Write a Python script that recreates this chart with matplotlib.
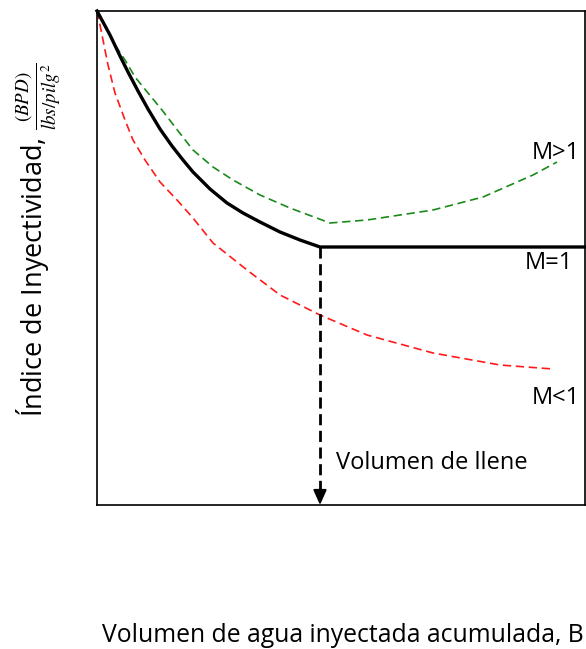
import matplotlib
matplotlib.use("Agg")
import matplotlib.pyplot as plt

# Conceptual curves (arbitrary units: x 0..488, y 0..494)
m1_x = [0, 13, 23, 31, 41, 51, 63, 75, 86, 96, 113, 130, 146, 163, 183, 203, 223, 488]
m1_y = [494, 470, 449, 433, 414, 396, 376, 359, 345, 333, 316, 302, 292, 283, 273, 265, 258, 258]

mg_x = [0, 18, 28, 38, 51, 65, 78, 96, 116, 136, 163, 193, 233, 270, 336, 386, 436, 460]
mg_y = [494, 460, 445, 428, 412, 395, 378, 355, 338, 325, 310, 297, 282, 285, 295, 308, 330, 343]

ml_x = [0, 3, 7, 11, 18, 28, 36, 48, 63, 80, 96, 116, 150, 183, 223, 270, 336, 403, 456]
ml_y = [494, 480, 460, 440, 412, 385, 365, 345, 323, 305, 287, 262, 235, 210, 190, 170, 152, 140, 136]

fill_x = 223
fill_y = 258

XMAX, YMAX = 488, 494

plt.rcParams['mathtext.fontset'] = 'stix'
FONT = 'Open Sans'
FS = 17

fig = plt.figure(figsize=(5.86, 6.49), dpi=100)
ax = fig.add_axes([97/586, 144/649, 488/586, 494/649])
ax.set_xlim(0, XMAX)
ax.set_ylim(0, YMAX)
ax.set_xticks([])
ax.set_yticks([])
for s in ax.spines.values():
    s.set_linewidth(1.2)
    s.set_color('black')

ax.plot(mg_x, mg_y, color='#1a8a1a', lw=1.2, dashes=(5, 2.8), clip_on=False)
ax.plot(ml_x, ml_y, color='#ff1a1a', lw=1.2, dashes=(5, 2.8), clip_on=False)
ax.plot(m1_x, m1_y, color='black', lw=2.4, clip_on=False, solid_joinstyle='round')

# vertical dashed arrow
ax.plot([fill_x, fill_x], [fill_y, 14], color='black', lw=2.0, dashes=(4, 2))
ax.annotate('', xy=(fill_x, 0), xytext=(fill_x, 16),
            arrowprops=dict(arrowstyle='-|>,head_length=0.9,head_width=0.4',
                            color='black', lw=1.5, shrinkA=0, shrinkB=0))

ax.text(336-97, 505-463, 'Volumen de llene', fontsize=FS,
        family=FONT, ha='left', va='center')
ax.text(532-97, 505-153, 'M>1', fontsize=FS, family=FONT,
        ha='left', va='center', clip_on=False)
ax.text(525-97, 505-263, 'M=1', fontsize=FS, family=FONT,
        ha='left', va='center', clip_on=False)
ax.text(532-97, 505-398, 'M<1', fontsize=FS, family=FONT,
        ha='left', va='center', clip_on=False)

fig.text(38/586, 1-240/649,
         'Índice de Inyectividad, ' + r'$\frac{(BPD)}{lbs/pilg^2}$',
         rotation=90, fontsize=19.5, family=FONT, ha='center', va='center')
fig.text(102/586, 1-636/649, 'Volumen de agua inyectada acumulada, B',
         fontsize=17.8, family=FONT, ha='left', va='center')

fig.savefig('out.png', dpi=100)
